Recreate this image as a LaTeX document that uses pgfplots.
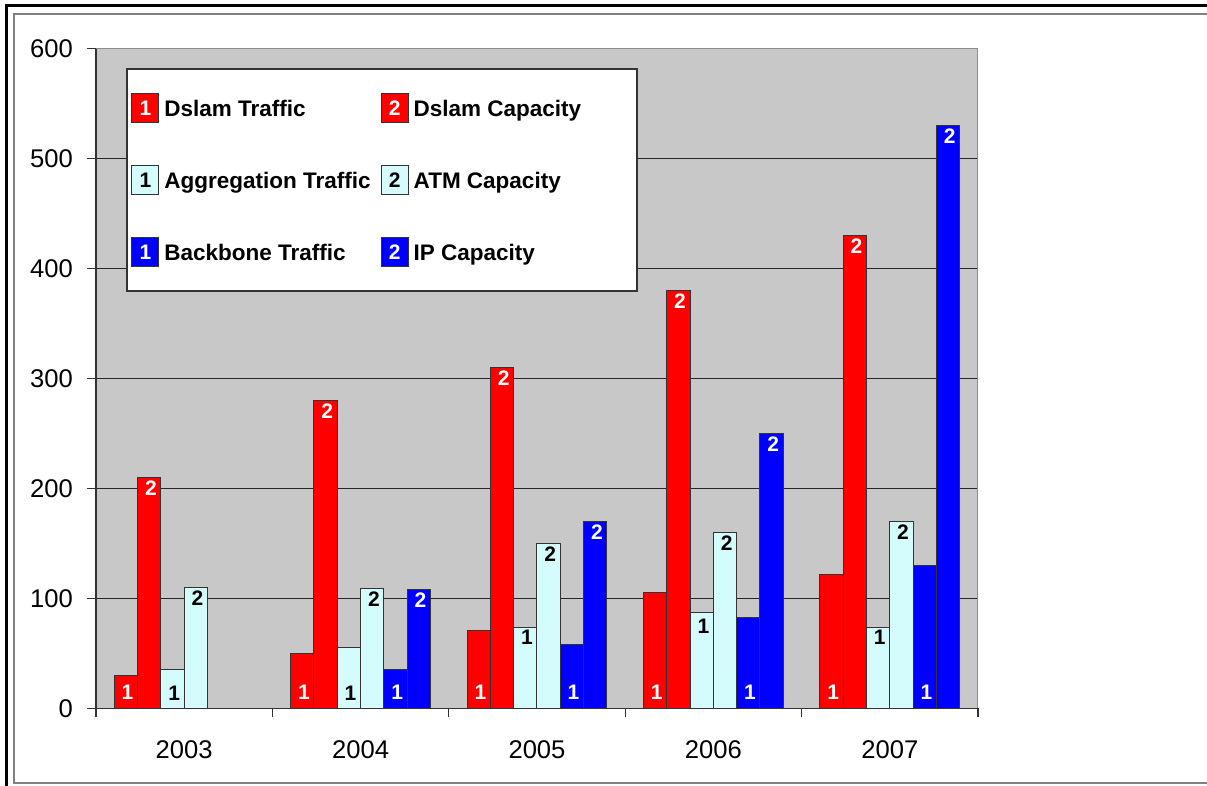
\documentclass[border=0pt]{standalone}
\usepackage{fontspec}
\setmainfont{Liberation Sans}
\usepackage{pgfplots}
\pgfplotsset{compat=1.18}
\usepackage{pgfplotstable}

\definecolor{plotgrey}{RGB}{200,200,200}
\definecolor{dred}{RGB}{255,0,0}
\definecolor{acyan}{RGB}{212,252,252}
\definecolor{bblue}{RGB}{0,0,255}

\newcommand\lblfont{\fontsize{10.5}{12}\selectfont\bfseries}

% x = category index (0=2003), y = value, ly = label centre height
\pgfplotstableread{
x y ly
0 30 15
1 50 15
2 71 15
3 105 15
4 122 15
}\dslamtraffic
\pgfplotstableread{
x y
0 210
1 280
2 310
3 380
4 430
}\dslamcap
\pgfplotstableread{
x y ly
0 35 14
1 55 14
2 74 65
3 87 75
4 74 65
}\aggtraffic
\pgfplotstableread{
x y
0 110
1 109
2 150
3 160
4 170
}\atmcap
\pgfplotstableread{
x y ly
1 35 15
2 58 15
3 83 15
4 130 15
}\backbone
\pgfplotstableread{
x y
1 108
2 170
3 250
4 530
}\ipcap

\pgfplotsset{
  legbox/.style n args={3}{legend image code/.code={%
    \draw[fill=#1,draw=black!80,line width=0.5pt] (0pt,-7.25pt) rectangle (13.5pt,7.25pt);
    \node[text=#2,font=\lblfont,inner sep=0pt,anchor=center] at (6.75pt,0pt) {#3};}},
  traffic/.style={
    visualization depends on={\thisrow{ly}-\thisrow{y} \as \dly},
    nodes near coords={1},
    every node near coord/.append style={anchor=center,font=\lblfont,yshift={\dly*0.55pt},xshift=0.8pt}},
  capacity/.style={
    nodes near coords={2},
    every node near coord/.append style={anchor=center,font=\lblfont,yshift=-5.25pt,xshift=0.8pt}},
}

\begin{document}
\begin{tikzpicture}
\useasboundingbox (-48pt,-38.75pt) rectangle (555.5pt,354.25pt);
\begin{axis}[
  at={(0pt,0pt)}, anchor=south west,
  scale only axis,
  width=441pt, height=330pt,
  xmin=-0.5, xmax=4.5,
  ymin=0, ymax=600,
  ybar, bar width=11.65pt,
  axis background/.style={fill=plotgrey},
  axis x line*=bottom, axis y line*=left,
  axis line style={black!80, line width=0.6pt},
  xtick={-0.5,0.5,1.5,2.5,3.5,4.5},
  xticklabels={{},{},{},{},{},{}},
  extra x ticks={0,1,2,3,4},
  extra x tick labels={2003,2004,2005,2006,2007},
  extra x tick style={major tick length=0pt,
     tick label style={anchor=center, yshift=-20.5pt}},
  ytick={0,100,...,600},
  ymajorgrids,
  grid style={black!85, line width=0.6pt},
  tick align=outside,
  major tick length=4.5pt,
  tick style={black!80, line width=0.6pt},
  ticklabel style={font=\fontsize{12.8}{15}\selectfont},
  yticklabel style={xshift=-3.5pt},
  /pgf/number format/assume math mode=true,
  legend columns=2,
  legend cell align=left,
  legend style={at={(0.0397,0.933)}, anchor=north west, draw=none, fill=none,
     inner sep=0pt, row sep=21pt,
     font=\fontsize{11.25}{13}\selectfont\bfseries,
     nodes={inner sep=0pt, text depth=0pt},
     /tikz/every odd column/.append style={column sep=2.5pt},
     /tikz/every even column/.append style={column sep=5pt}},
]
\addplot[fill=dred, draw=black!80, line width=0.5pt, bar shift=-29.125pt,
  legbox={dred}{white}{1}, traffic, every node near coord/.append style={text=white}]
  table[x=x,y=y] {\dslamtraffic};
\addlegendentry{Dslam Traffic}
\addplot[fill=dred, draw=black!80, line width=0.5pt, bar shift=-17.475pt,
  legbox={dred}{white}{2}, capacity, every node near coord/.append style={text=white}]
  table[x=x,y=y] {\dslamcap};
\addlegendentry{Dslam Capacity}
\addplot[fill=acyan, draw=black!80, line width=0.5pt, bar shift=-5.825pt,
  legbox={acyan}{black}{1}, traffic, every node near coord/.append style={text=black}]
  table[x=x,y=y] {\aggtraffic};
\addlegendentry{Aggregation Traffic}
\addplot[fill=acyan, draw=black!80, line width=0.5pt, bar shift=5.825pt,
  legbox={acyan}{black}{2}, capacity, every node near coord/.append style={text=black}]
  table[x=x,y=y] {\atmcap};
\addlegendentry{ATM Capacity}
\addplot[fill=bblue, draw=black!80, line width=0.5pt, bar shift=17.475pt,
  legbox={bblue}{white}{1}, traffic, every node near coord/.append style={text=white}]
  table[x=x,y=y] {\backbone};
\addlegendentry{Backbone Traffic}
\addplot[fill=bblue, draw=black!80, line width=0.5pt, bar shift=29.125pt,
  legbox={bblue}{white}{2}, capacity, every node near coord/.append style={text=white}]
  table[x=x,y=y] {\ipcap};
\addlegendentry{IP Capacity}
\draw[black!45, line width=0.8pt] (rel axis cs:0,1) -- (rel axis cs:1,1) -- (rel axis cs:1,0);
\draw[black!80, fill=white, line width=0.6pt] (rel axis cs:0.03515,0.969) rectangle (rel axis cs:0.6134,0.6326);
\end{axis}
\draw[line width=1.5pt] (-44.5pt,-45pt) -- (-44.5pt,351.25pt) -- (565pt,351.25pt);
\draw[black!50, line width=0.8pt] (565pt,-37.25pt) -- (-41pt,-37.25pt) -- (-41pt,347.25pt) -- (565pt,347.25pt);
\end{tikzpicture}
\end{document}
